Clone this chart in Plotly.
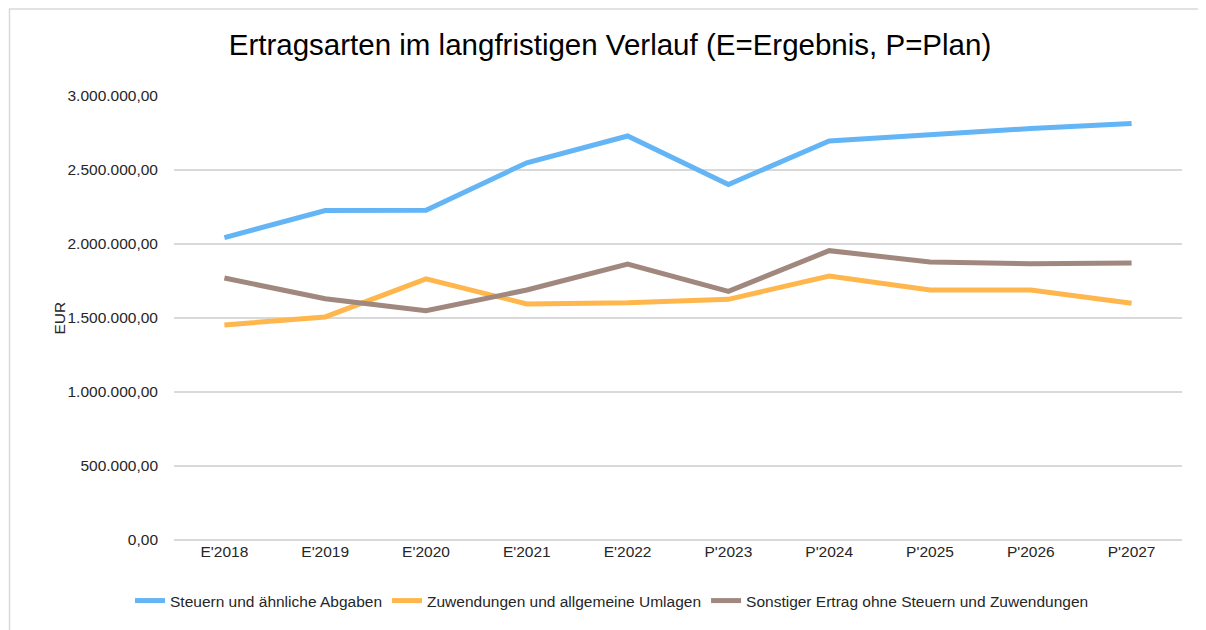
import plotly.graph_objects as go

categories = ["E'2018", "E'2019", "E'2020", "E'2021", "E'2022",
              "P'2023", "P'2024", "P'2025", "P'2026", "P'2027"]
steuern = [2043000, 2226000, 2228000, 2549000, 2730000,
           2402000, 2696000, 2742000, 2780000, 2815000]
zuwendungen = [1453000, 1507000, 1764000, 1595000, 1603000,
               1626000, 1784000, 1689000, 1689000, 1599000]
sonstiger = [1770000, 1630000, 1549000, 1689000, 1865000,
             1680000, 1955000, 1878000, 1867000, 1872000]
series_names = ["Steuern und ähnliche Abgaben",
                "Zuwendungen und allgemeine Umlagen",
                "Sonstiger Ertrag ohne Steuern und Zuwendungen"]
colors = ["#64B5F6", "#FFB74D", "#A1887F"]
tick_vals = [0, 500000, 1000000, 1500000, 2000000, 2500000, 3000000]
tick_text = ["0,00", "500.000,00", "1.000.000,00", "1.500.000,00",
             "2.000.000,00", "2.500.000,00", "3.000.000,00"]

FONT = "Liberation Sans, Arial, sans-serif"
OFF = 8  # page body margin
W, H = 1206 - OFF, 630 - OFF

fig = go.Figure()
for name, vals, col in zip(series_names, [steuern, zuwendungen, sonstiger], colors):
    fig.add_trace(go.Scatter(x=categories, y=vals, name=name, mode="lines",
                             line=dict(color=col, width=5)))

fig.update_layout(
    width=W, height=H,
    margin=dict(l=174 - OFF, r=24, t=96 - OFF, b=90),
    paper_bgcolor="white", plot_bgcolor="white",
    font=dict(family=FONT, size=15.5, color="#262626"),
    title=dict(text="Ertragsarten im langfristigen Verlauf (E=Ergebnis, P=Plan)",
               x=(610 - OFF) / W, xref="container", xanchor="center",
               y=1 - (45 - OFF) / H, yref="container", yanchor="middle",
               font=dict(family=FONT, size=29.5, color="#000000")),
    xaxis=dict(type="category", range=[-0.5, 9.5], showgrid=False, showline=False,
               ticks="", zeroline=False, tickfont=dict(size=15.5)),
    yaxis=dict(range=[0, 3000000], tickvals=tick_vals, ticktext=tick_text,
               showgrid=True, gridcolor="#D9D9D9", gridwidth=1.5,
               zeroline=True, zerolinecolor="#D9D9D9", zerolinewidth=1.5,
               showline=False, ticks="", ticklabelstandoff=15,
               tickfont=dict(size=15.5)),
    legend=dict(orientation="h", xref="container", x=(612 - OFF) / W, xanchor="center",
                yref="container", y=1 - (601 - OFF) / H, yanchor="middle",
                font=dict(size=15.5), tracegroupgap=0),
    showlegend=True,
)
fig.add_annotation(text="EUR", textangle=-90, xref="paper", yref="paper",
                   x=(48 - 174) / 1008, y=(540 - 318) / 444, showarrow=False,
                   font=dict(size=15.5, color="#262626"))
fig.add_shape(type="rect", xref="paper", yref="paper",
              x0=(9.5 - 174) / 1008, x1=1.2, y0=-0.5, y1=(540 - 9) / 444,
              line=dict(color="#D9D9D9", width=1.5), fillcolor="rgba(0,0,0,0)",
              layer="below")
fig.write_html("out.html")
